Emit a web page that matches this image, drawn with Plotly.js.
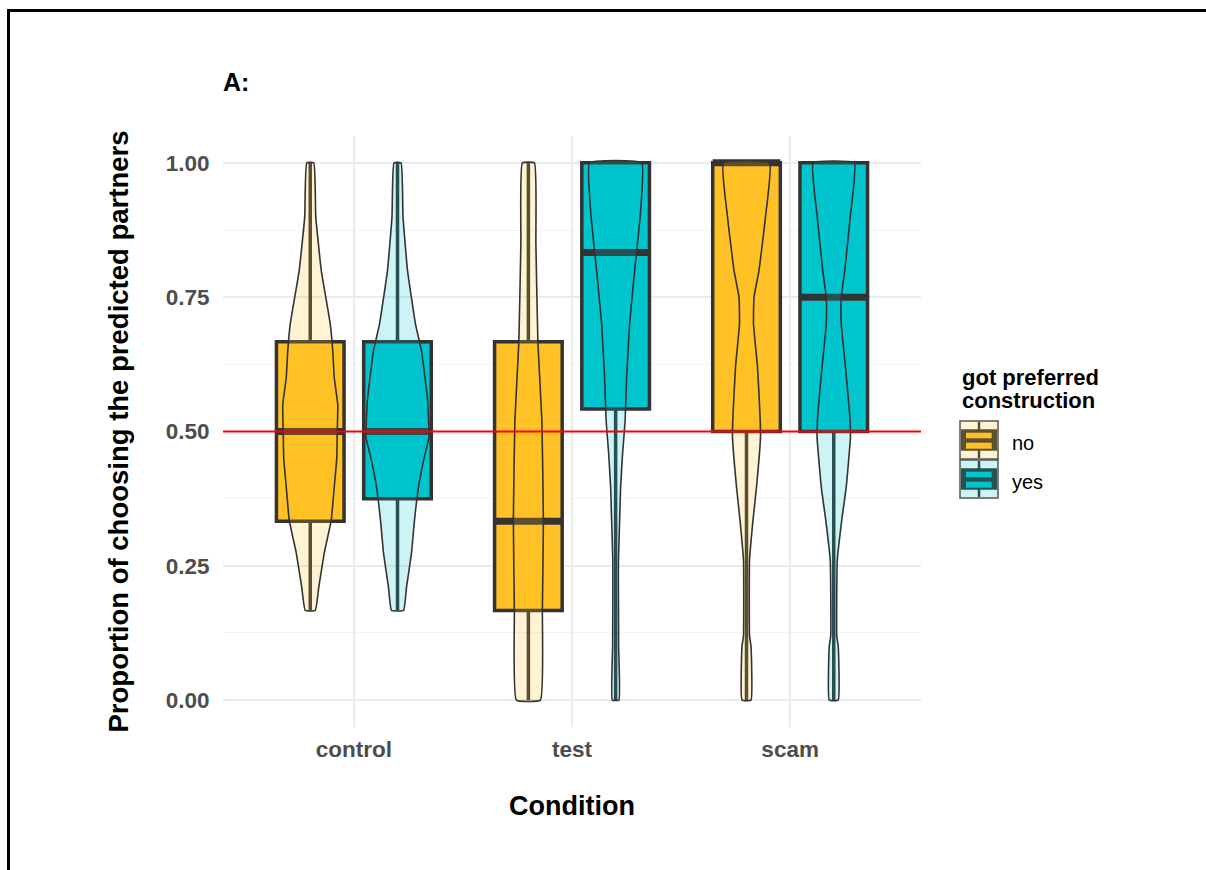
<!DOCTYPE html>
<html>
<head>
<meta charset="utf-8">
<script src="https://cdn.plot.ly/plotly-3.0.1.min.js"></script>
<style>
  html, body { margin: 0; padding: 0; background: #ffffff; }
  #wrap { position: relative; width: 1206px; height: 870px; overflow: hidden; }
  #chart { position: absolute; left: 0; top: 0; width: 1206px; height: 870px; }
  #frame { position: absolute; left: 7px; top: 9px; width: 1300px; height: 900px;
           border-top: 3px solid #000; border-left: 3px solid #000; pointer-events: none; }
</style>
</head>
<body>
<div id="wrap"><div id="chart"></div><div id="frame"></div></div>
<script>
// ---------------- data ----------------
const categories = ['control', 'test', 'scam'];
const groupNames = ['no', 'yes'];
const legendTitleLines = ['got preferred', 'construction'];

// box statistics (proportion), per condition
const q1No       = [0.333, 0.167, 0.500];
const medianNo   = [0.500, 0.333, 1.000];
const q3No       = [0.667, 0.667, 1.000];
const lowNo      = [0.167, 0.000, 0.000];
const highNo     = [1.000, 1.000, 1.000];

const q1Yes      = [0.375, 0.542, 0.500];
const medianYes  = [0.500, 0.833, 0.750];
const q3Yes      = [0.667, 1.000, 1.000];
const lowYes     = [0.167, 0.000, 0.000];
const highYes    = [1.000, 1.000, 1.000];

// violin outlines: proportion levels and density (half-width)
const violinYControlNo  = [0.167, 0.21, 0.274, 0.335, 0.397, 0.45, 0.50, 0.55, 0.60, 0.65, 0.70, 0.75, 0.80, 0.90, 1.00];
const violinDControlNo  = [5, 8.5, 14, 21, 24, 26.5, 27, 27.5, 24, 22.5, 20, 15.5, 11, 5.5, 3.5];
const violinYControlYes = [0.167, 0.21, 0.274, 0.335, 0.397, 0.45, 0.49, 0.56, 0.65, 0.70, 0.80, 0.90, 1.00];
const violinDControlYes = [6, 9, 14, 17, 21, 26.5, 31.5, 30, 24, 18, 10, 5.5, 3.5];
const violinYTestNo     = [0.00, 0.168, 0.335, 0.52, 0.667, 0.85, 1.00];
const violinDTestNo     = [12, 14, 15, 13.5, 9.5, 7.5, 6];
const violinYTestYes    = [0.00, 0.10, 0.20, 0.26, 0.335, 0.397, 0.46, 0.52, 0.60, 0.70, 0.80, 0.90, 1.00];
const violinDTestYes    = [3.3, 3, 2.8, 2.8, 4, 5, 7, 9.5, 11, 14, 19, 24.5, 26];
const violinYScamNo     = [0.00, 0.10, 0.12, 0.26, 0.335, 0.397, 0.49, 0.53, 0.62, 0.70, 0.75, 0.80, 0.90, 1.00];
const violinDScamNo     = [4.5, 4.5, 3, 3, 6.5, 10, 14, 13.5, 11, 7, 7.5, 12.5, 19, 23];
const violinYScamYes    = [0.00, 0.10, 0.12, 0.26, 0.335, 0.397, 0.49, 0.53, 0.62, 0.70, 0.75, 0.80, 0.90, 1.00];
const violinDScamYes    = [4.5, 4.5, 3, 3.5, 8, 12.5, 16.7, 16, 11.7, 7.5, 7.5, 11, 16.5, 20.5];

const yTickVals  = [0, 0.25, 0.5, 0.75, 1];
const yTickText  = ['0.00', '0.25', '0.50', '0.75', '1.00'];
const referenceLine = 0.5;

// ---------------- style ----------------
const FONT = 'Liberation Sans, Arial, sans-serif';
const DODGE = 0.2;
const BOX_W = 0.31;
const DENS_SCALE = 1 / 218;
const fillNo = '#FFC125', fillYes = '#00C5CD';
const violinFillNo = 'rgba(255,193,37,0.2)', violinFillYes = 'rgba(0,197,205,0.2)';
const keyLight = ['#FFF3D3', '#CCF3F5'];
const keyDark  = ['#5C5030', '#295052'];
const dark = '#333333';

const xsNo  = categories.map((c, i) => i + 1 - DODGE);
const xsYes = categories.map((c, i) => i + 1 + DODGE);

const traces = [];

function boxTrace(name, xs, q1, med, q3, lo, hi, fill) {
  return {
    type: 'box', name: name, legendgroup: name, x: xs, q1: q1, median: med, q3: q3,
    lowerfence: lo, upperfence: hi, width: BOX_W, whiskerwidth: 0,
    fillcolor: fill, line: { color: dark, width: 3.5 },
    boxpoints: false, hoverinfo: 'skip', showlegend: false
  };
}
traces.push(boxTrace(groupNames[0], xsNo, q1No, medianNo, q3No, lowNo, highNo, fillNo));
traces.push(boxTrace(groupNames[1], xsYes, q1Yes, medianYes, q3Yes, lowYes, highYes, fillYes));

// thick median lines
function medianTrace(xs, med) {
  const x = [], y = [];
  xs.forEach((xc, i) => { x.push(xc - BOX_W / 2, xc + BOX_W / 2, null); y.push(med[i], med[i], null); });
  return { type: 'scatter', mode: 'lines', x: x, y: y, line: { color: dark, width: 7 },
           hoverinfo: 'skip', showlegend: false };
}
traces.push(medianTrace(xsNo, medianNo));
traces.push(medianTrace(xsYes, medianYes));

// violins
function violinTrace(xc, ys, ds, fill) {
  const x = [], y = [];
  for (let i = 0; i < ys.length; i++) { x.push(xc + ds[i] * DENS_SCALE); y.push(ys[i]); }
  for (let i = ys.length - 1; i >= 0; i--) { x.push(xc - ds[i] * DENS_SCALE); y.push(ys[i]); }
  x.push(x[0]); y.push(y[0]);
  return { type: 'scatter', mode: 'lines', x: x, y: y, fill: 'toself', fillcolor: fill,
           line: { color: dark, width: 1.6, shape: 'spline', smoothing: 0.35 },
           hoverinfo: 'skip', showlegend: false };
}
traces.push(violinTrace(xsNo[0],  violinYControlNo,  violinDControlNo,  violinFillNo));
traces.push(violinTrace(xsYes[0], violinYControlYes, violinDControlYes, violinFillYes));
traces.push(violinTrace(xsNo[1],  violinYTestNo,     violinDTestNo,     violinFillNo));
traces.push(violinTrace(xsYes[1], violinYTestYes,    violinDTestYes,    violinFillYes));
traces.push(violinTrace(xsNo[2],  violinYScamNo,     violinDScamNo,     violinFillNo));
traces.push(violinTrace(xsYes[2], violinYScamYes,    violinDScamYes,    violinFillYes));

// ---------------- legend (drawn as keys + text) ----------------
const PL = 223, PT = 136, PW = 698, PH = 591;
const px2x = px => (px - PL) / PW;
const py2y = py => 1 - (py - PT) / PH;
const KEY_X = 960, KEY_Y0 = 421, KEY_S = 38, KEY_GAP = 39;

const shapes = [{
  type: 'line', xref: 'paper', x0: 0, x1: 1, yref: 'y', y0: referenceLine, y1: referenceLine,
  line: { color: '#FF0000', width: 2 }, layer: 'above'
}];
const annotations = legendTitleLines.map((t, i) => ({
  text: '<b>' + t + '</b>', xref: 'paper', yref: 'paper', x: px2x(KEY_X), xanchor: 'left',
  y: py2y(377 + 23 * i), yanchor: 'middle', showarrow: false,
  font: { family: FONT, size: 22, color: '#000000' }
}));
const boxFills = [fillNo, fillYes];
groupNames.forEach((g, k) => {
  const ky = KEY_Y0 + k * KEY_GAP;
  const rect = (x0, y0, x1, y1, fill, lineColor, lw) => ({
    type: 'rect', xref: 'paper', yref: 'paper',
    x0: px2x(KEY_X + x0), x1: px2x(KEY_X + x1), y0: py2y(ky + y0), y1: py2y(ky + y1),
    fillcolor: fill, line: { color: lineColor || 'rgba(0,0,0,0)', width: lw || 0 }, layer: 'above'
  });
  shapes.push(rect(0, 0, KEY_S, KEY_S, keyLight[k], '#555555', 1.5));
  shapes.push({ type: 'line', xref: 'paper', yref: 'paper',
    x0: px2x(KEY_X + KEY_S / 2), x1: px2x(KEY_X + KEY_S / 2), y0: py2y(ky + 1), y1: py2y(ky + KEY_S - 1),
    line: { color: keyDark[k], width: 2.5 }, layer: 'above' });
  shapes.push(rect(1, 8.3, KEY_S - 1, 29.7, keyDark[k]));
  shapes.push(rect(6, 11.7, 31.7, 17.3, boxFills[k]));
  shapes.push(rect(6, 21.7, 31.7, 27.7, boxFills[k]));
  annotations.push({
    text: g, xref: 'paper', yref: 'paper', x: px2x(1010), xanchor: 'left',
    y: py2y(ky + KEY_S / 2 + 3), yanchor: 'middle', showarrow: false,
    font: { family: FONT, size: 20, color: '#000000' }
  });
});

const layout = {
  width: 1206, height: 870,
  margin: { l: PL, r: 1206 - PL - PW, t: PT, b: 870 - PT - PH },
  paper_bgcolor: '#ffffff', plot_bgcolor: '#ffffff',
  boxmode: 'overlay', showlegend: false,
  font: { family: FONT, color: '#000000' },
  title: { text: '<b>A:</b>', x: 223 / 1206, xanchor: 'left', y: 1 - 82 / 870, yanchor: 'middle',
           font: { family: FONT, size: 25, color: '#000000' } },
  xaxis: {
    range: [0.4, 3.6], tickvals: [1, 2, 3], ticktext: categories,
    showgrid: true, gridcolor: '#EBEBEB', gridwidth: 1.5, zeroline: false, showline: false,
    ticks: 'outside', ticklen: 2, tickcolor: 'rgba(0,0,0,0)',
    tickfont: { family: FONT, size: 22.5, color: '#4D4D4D', weight: 'bold' },
    title: { text: '<b>Condition</b>', standoff: 35, font: { family: FONT, size: 27, color: '#000000' } },
    fixedrange: true
  },
  yaxis: {
    range: [-0.05, 1.05], tickvals: yTickVals, ticktext: yTickText,
    showgrid: true, gridcolor: '#EBEBEB', gridwidth: 1.5, zeroline: false, showline: false,
    ticks: 'outside', ticklen: 8, tickcolor: 'rgba(0,0,0,0)',
    tickfont: { family: FONT, size: 22.5, color: '#4D4D4D', weight: 'bold' },
    minor: { tickvals: [0.125, 0.375, 0.625, 0.875], showgrid: true, gridcolor: '#F4F4F4', gridwidth: 1 },
    title: { text: '<b>Proportion of choosing the predicted partners</b>', standoff: 29,
             font: { family: FONT, size: 27.5, color: '#000000' } },
    fixedrange: true
  },
  annotations: annotations,
  shapes: shapes
};

Plotly.newPlot('chart', traces, layout, { displayModeBar: false, staticPlot: true });
</script>
</body>
</html>
